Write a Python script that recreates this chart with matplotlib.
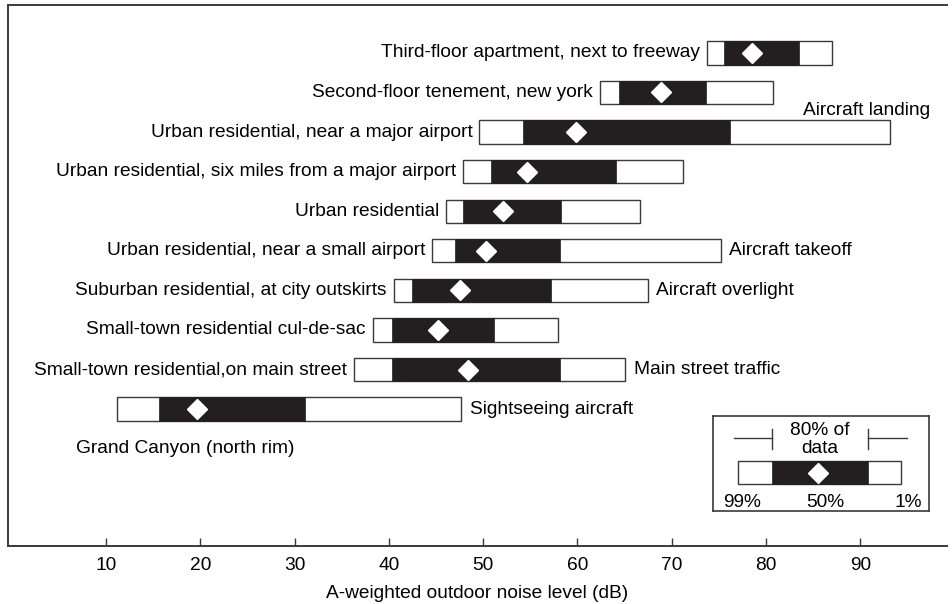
##############################################################################
# Outdoor noise levels by location (percentile bars)
##############################################################################
import matplotlib
matplotlib.use('Agg')
import matplotlib.pyplot as plt

plt.rcParams['font.family'] = ['Liberation Sans', 'DejaVu Sans']

##############################################################################
# Data (dB)
##############################################################################
places = [
    'Third-floor apartment, next to freeway',
    'Second-floor tenement, new york',
    'Urban residential, near a major airport',
    'Urban residential, six miles from a major airport',
    'Urban residential',
    'Urban residential, near a small airport',
    'Suburban residential, at city outskirts',
    'Small-town residential cul-de-sac',
    'Small-town residential,on main street',
    'Grand Canyon (north rim)',
]
lvl99 = [73.7, 62.4, 49.6, 47.9, 46.1, 44.6, 40.5, 38.3, 36.3, 11.2]
lvl90 = [75.6, 64.4, 54.2, 50.8, 47.9, 47.0, 42.5, 40.3, 40.3, 15.6]
lvl50 = [78.5, 68.9, 59.8, 54.7, 52.1, 50.3, 47.5, 45.2, 48.4, 19.7]
lvl10 = [83.5, 73.6, 76.2, 64.1, 58.3, 58.2, 57.2, 51.1, 58.2, 31.1]
lvl01 = [87.0, 80.8, 93.2, 71.2, 66.6, 75.2, 67.5, 57.9, 65.1, 47.7]
notes = {5: 'Aircraft takeoff', 6: 'Aircraft overlight',
         8: 'Main street traffic', 9: 'Sightseeing aircraft'}
xticks = [10, 20, 30, 40, 50, 60, 70, 80, 90]

# legend key (fractions of the key box)
key_vals = [0.117, 0.275, 0.488, 0.717, 0.870]

##############################################################################
# Figure
##############################################################################
EDGE = '#3a3a3a'
FS = 13.8
fig = plt.figure(figsize=(9.52, 6.04), dpi=100, facecolor='w')
ax = fig.add_axes([0.0084, 0.096, 0.9863, 0.8957])
rows = list(range(len(places)))
H = 0.59

ax.barh(rows, [h - l for l, h in zip(lvl99, lvl01)], left=lvl99, height=H,
        color='white', edgecolor=EDGE, linewidth=1.0, zorder=2)
ax.barh(rows, [h - l for l, h in zip(lvl90, lvl10)], left=lvl90, height=H,
        color='#231f20', edgecolor='#231f20', linewidth=0.5, zorder=3)
ax.plot(lvl50, rows, ls='none', marker='D', ms=10, mfc='white', mec='white',
        zorder=4)

for i, name in enumerate(places):
    if i == 9:
        ax.text(6.8, 10.0, name, ha='left', va='center', fontsize=FS)
    else:
        ax.annotate(name, (lvl99[i], i), xytext=(-5, 0),
                    textcoords='offset points', ha='right', va='center',
                    fontsize=FS)
for i, txt in notes.items():
    ax.annotate(txt, (lvl01[i], i), xytext=(6, 0), textcoords='offset points',
                ha='left', va='center', fontsize=FS)
ax.text(83.9, 1.45, 'Aircraft landing', ha='left', va='center', fontsize=FS)

ax.set_xlim(-0.4, 99.2)
ax.set_ylim(12.46, -1.21)
ax.set_xticks(xticks)
ax.set_yticks([])
ax.tick_params(axis='x', direction='in', length=6, width=1, color=EDGE,
               labelsize=FS, pad=8)
ax.set_xlabel('A-weighted outdoor noise level (dB)', fontsize=FS, labelpad=8)
ax.spines['right'].set_visible(False)
for s in ('top', 'left', 'bottom'):
    ax.spines[s].set_color(EDGE)
    ax.spines[s].set_linewidth(1.4)

##############################################################################
# Key box
##############################################################################
kx = fig.add_axes([713/952, 1 - 511/604, 216/952, 95/604])
kx.set_xlim(0, 1)
kx.set_ylim(0, 1)
kx.set_xticks([])
kx.set_yticks([])
for s in kx.spines.values():
    s.set_color(EDGE)
    s.set_linewidth(1.2)
kh = 0.245
ky = 0.403
kx.barh([ky], [key_vals[4] - key_vals[0]], left=key_vals[0], height=kh,
        color='white', edgecolor=EDGE, linewidth=1.0)
kx.barh([ky], [key_vals[3] - key_vals[1]], left=key_vals[1], height=kh,
        color='#231f20', edgecolor='#231f20', linewidth=0.5)
kx.plot([key_vals[2]], [ky], ls='none', marker='D', ms=10, mfc='white',
        mec='white')
kx.plot([0.097, key_vals[1]], [0.772, 0.772], color=EDGE, lw=1)
kx.plot([key_vals[1], key_vals[1]], [0.653, 0.863], color=EDGE, lw=1)
kx.plot([key_vals[3], 0.897], [0.772, 0.772], color=EDGE, lw=1)
kx.plot([key_vals[3], key_vals[3]], [0.653, 0.863], color=EDGE, lw=1)
kx.text(0.495, 0.75, '80% of\ndata', ha='center', va='center', fontsize=FS,
        linespacing=1.1)
kx.text(0.133, 0.085, '99%', ha='center', va='center', fontsize=FS)
kx.text(0.519, 0.085, '50%', ha='center', va='center', fontsize=FS)
kx.text(0.903, 0.085, '1%', ha='center', va='center', fontsize=FS)

plt.savefig('out.png', dpi=100, facecolor='w')
plt.close('all')
